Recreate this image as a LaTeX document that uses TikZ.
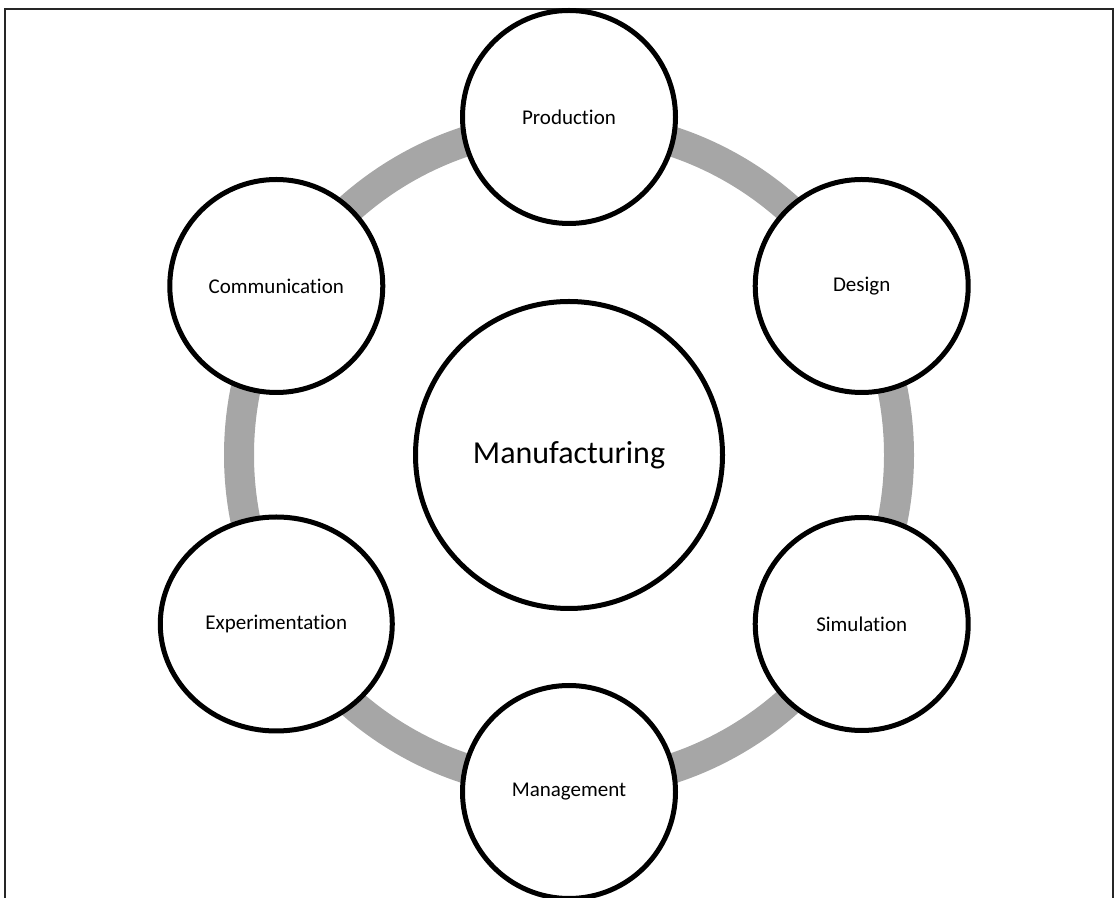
\documentclass[tikz,border=0pt]{standalone}
\usepackage{fontspec}
\setmainfont{Carlito}[Ligatures={NoCommon,NoContextual}]
\usetikzlibrary{shapes.geometric}
\definecolor{ringgray}{RGB}{166,166,166}
\tikzstyle{hub} = [circle, minimum size=307, inner sep=0pt, draw=black, line width=5, fill=white, font=\fontsize{32}{38}\selectfont]
\tikzstyle{satellite} = [circle, minimum size=213, inner sep=0pt, draw=black, line width=5, fill=white, font=\fontsize{21}{25}\selectfont]
\tikzstyle{wide} = [ellipse, minimum width=232, minimum height=214]
\tikzstyle{ring} = [draw=ringgray, line width=30]
\tikzstyle{frame} = [draw=black!85, line width=2]

\begin{document}
\begin{tikzpicture}[x=1pt, y=1pt]
	\useasboundingbox (0,0) rectangle (1116,897);
	\draw [frame] (5,-20) -- (5,888) -- (1113,888) -- (1113,-20);

	\coordinate (mid) at (569,442);
	\draw [ring] (mid) circle (330);

	\node (mfg) [hub] at (mid) {Manufacturing};
	\node (prod) [satellite] at ([shift={(90:338)}]mid) {Production};
	\node (design) [satellite] at ([shift={(30:338)}]mid) {Design};
	\node (sim) [satellite] at ([shift={(-30:338)}]mid) {Simulation};
	\node (mgmt) [satellite] at ([shift={(-90:337)}]mid) {Management};
	\node (exper) [satellite, wide] at ([shift={(-150:338)}]mid) {Experimentation};
	\node (comm) [satellite] at ([shift={(150:338)}]mid) {Communication};
\end{tikzpicture}
\end{document}
